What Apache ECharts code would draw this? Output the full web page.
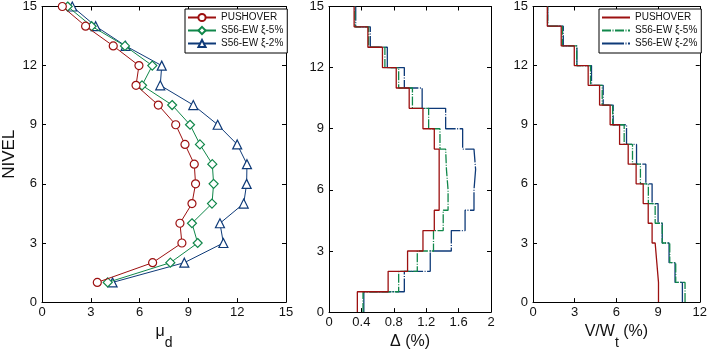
<!DOCTYPE html>
<html>
<head>
<meta charset="utf-8">
<script src="https://cdn.jsdelivr.net/npm/echarts@6/dist/echarts.min.js"></script>
<style>
  html, body { margin: 0; padding: 0; background: #fff; }
  #chart { width: 710px; height: 355px; }
</style>
</head>
<body>
<div id="chart"></div>
<script>
// nivel 1..15
const levels = [1, 2, 3, 4, 5, 6, 7, 8, 9, 10, 11, 12, 13, 14, 15]
const seriesNames = ['PUSHOVER', 'S56-EW ξ-5%', 'S56-EW ξ-2%']

// desplazamiento mu_d por nivel
const muPush = [3.4, 6.8, 8.6, 8.48, 9.22, 9.44, 9.36, 8.79, 8.22, 7.15, 5.78, 5.96, 4.38, 2.68, 1.25]
const muEw5 = [4.04, 7.89, 9.57, 9.22, 10.45, 10.55, 10.47, 9.71, 9.1, 8.0, 6.15, 6.78, 5.1, 3.05, 1.58]
const muEw2 = [4.34, 8.75, 11.15, 10.94, 12.4, 12.58, 12.6, 12.0, 10.8, 9.3, 7.27, 7.36, 5.14, 3.3, 1.86]

// deriva de entrepiso (%) por nivel
const driftPush = [0.35, 0.73, 0.97, 1.16, 1.30, 1.36, 1.36, 1.36, 1.30, 1.16, 0.99, 0.83, 0.66, 0.48, 0.31]
const driftEw5 = [0.42, 0.86, 1.09, 1.29, 1.41, 1.47, 1.45, 1.44, 1.37, 1.23, 1.03, 0.86, 0.69, 0.49, 0.32]
const driftEw2 = [0.43, 0.93, 1.25, 1.51, 1.68, 1.79, 1.81, 1.79, 1.65, 1.44, 1.15, 0.93, 0.72, 0.51, 0.33]

// cortante V/Wt (%) por nivel
const shearPush = [9.03, 8.91, 8.79, 8.57, 8.29, 7.93, 7.42, 6.85, 6.23, 5.55, 4.79, 3.97, 2.97, 2.03, 1.03]
const shearEw5 = [10.94, 10.27, 9.84, 9.3, 8.79, 8.3, 7.73, 7.16, 6.56, 5.73, 4.98, 4.14, 3.14, 2.11, 1.05]
const shearEw2 = [10.75, 10.22, 9.79, 9.3, 9.0, 8.57, 8.12, 7.45, 6.73, 5.77, 5.05, 4.21, 3.16, 2.18, 1.06]

const colors = ['#9c1010', '#10874a', '#0e3a78']
const font = "'Liberation Sans', Arial, sans-serif"

function points(vals) {
  return vals.map((v, i) => [v, levels[i]])
}
// escalones: cada nivel ocupa de (nivel-1) a nivel
function steps(vals) {
  const pts = []
  vals.forEach((v, i) => {
    pts.push([v, levels[i] - 1], [v, levels[i]])
  })
  return pts
}

const grids = [
  { left: 42, right: 424, top: 5, bottom: 41 },
  { left: 329, right: 219, top: 5, bottom: 41 },
  { left: 533, right: 10, top: 5, bottom: 41 }
]
const xRanges = [
  { max: 15, interval: 3 },
  { max: 2, interval: 0.4 },
  { max: 12, interval: 3 }
]
const xNames = ['{a|μ}{s|d}', '{a|Δ (%)}', '{a|V/W}{s|t}{a| (%)}']

const axisLine = { show: true, onZero: false, lineStyle: { color: '#000', width: 1 } }
const tick = { show: true, inside: true, length: 4, lineStyle: { color: '#000' } }
const label = { color: '#111', fontSize: 13, fontFamily: font }
const nameRich = {
  a: { fontSize: 16, fontFamily: font, color: '#111', verticalAlign: 'top', lineHeight: 18 },
  s: { fontSize: 14, fontFamily: font, color: '#111', verticalAlign: 'bottom', lineHeight: 26 }
}

const xAxis = []
const yAxis = []
grids.forEach((g, i) => {
  xAxis.push({
    type: 'value', gridIndex: i, min: 0, max: xRanges[i].max, interval: xRanges[i].interval,
    name: xNames[i], nameLocation: 'middle', nameGap: 17,
    nameTextStyle: { rich: nameRich },
    axisLine: axisLine, axisTick: tick, splitLine: { show: false },
    axisLabel: Object.assign({ margin: 4 }, label)
  })
  yAxis.push({
    type: 'value', gridIndex: i, min: 0, max: 15, interval: 3,
    name: i === 0 ? 'NIVEL' : '', nameLocation: 'middle', nameGap: 24, nameRotate: 90,
    nameTextStyle: { fontSize: 17, fontFamily: font, color: '#111' },
    axisLine: axisLine, axisTick: tick, splitLine: { show: false },
    axisLabel: Object.assign({ margin: 5 }, label)
  })
})
// marco superior y derecho
grids.forEach((g, i) => {
  xAxis.push({
    type: 'value', gridIndex: i, position: 'top', min: 0, max: xRanges[i].max, interval: xRanges[i].interval,
    axisLine: axisLine, axisTick: tick, axisLabel: { show: false }, splitLine: { show: false }
  })
  yAxis.push({
    type: 'value', gridIndex: i, position: 'right', min: 0, max: 15, interval: 3,
    axisLine: axisLine, axisTick: tick, axisLabel: { show: false }, splitLine: { show: false }
  })
})

const symbols = ['circle', 'diamond', 'triangle']
const symbolSizes = [8, 9, 9]
const dashes = ['solid', [9, 1.5, 1, 1.5], [22, 1.5, 1, 1.5]]

const series = []
;[muPush, muEw5, muEw2].forEach((vals, k) => {
  series.push({
    name: seriesNames[k], type: 'line', xAxisIndex: 0, yAxisIndex: 0,
    data: points(vals), symbol: symbols[k], symbolSize: symbolSizes[k],
    color: colors[k],
    lineStyle: { color: colors[k], width: 1 },
    itemStyle: { color: '#fff', borderColor: colors[k], borderWidth: 1.2 },
    animation: false, z: 3 - k
  })
})
;[[driftPush, driftEw5, driftEw2], [shearPush, shearEw5, shearEw2]].forEach((group, p) => {
  group.forEach((vals, k) => {
    series.push({
      name: seriesNames[k] + ' ', type: 'line', xAxisIndex: p + 1, yAxisIndex: p + 1,
      data: steps(vals), symbol: 'none', color: colors[k],
      lineStyle: { color: colors[k], width: 1.3, type: dashes[k] },
      animation: false, z: 3 - k
    })
  })
})

const legendBase = {
  orient: 'vertical', top: 9, itemGap: 0, itemWidth: 28, itemHeight: 9,
  padding: [2, 4, 3, 2], borderColor: '#000', borderWidth: 1, backgroundColor: '#fff',
  textStyle: { fontSize: 10, fontFamily: font, color: '#111', lineHeight: 13 },
  selectedMode: false
}

const chart = echarts.init(document.getElementById('chart'))
chart.setOption({
  backgroundColor: '#fff',
  animation: false,
  grid: grids,
  xAxis: xAxis,
  yAxis: yAxis,
  legend: [
    Object.assign({}, legendBase, { left: 185, data: seriesNames }),
    Object.assign({}, legendBase, {
      left: 599, data: seriesNames.map(n => n + ' '),
      itemStyle: { opacity: 0 },
      formatter: n => n.trim()
    })
  ],
  series: series
})
</script>
</body>
</html>
